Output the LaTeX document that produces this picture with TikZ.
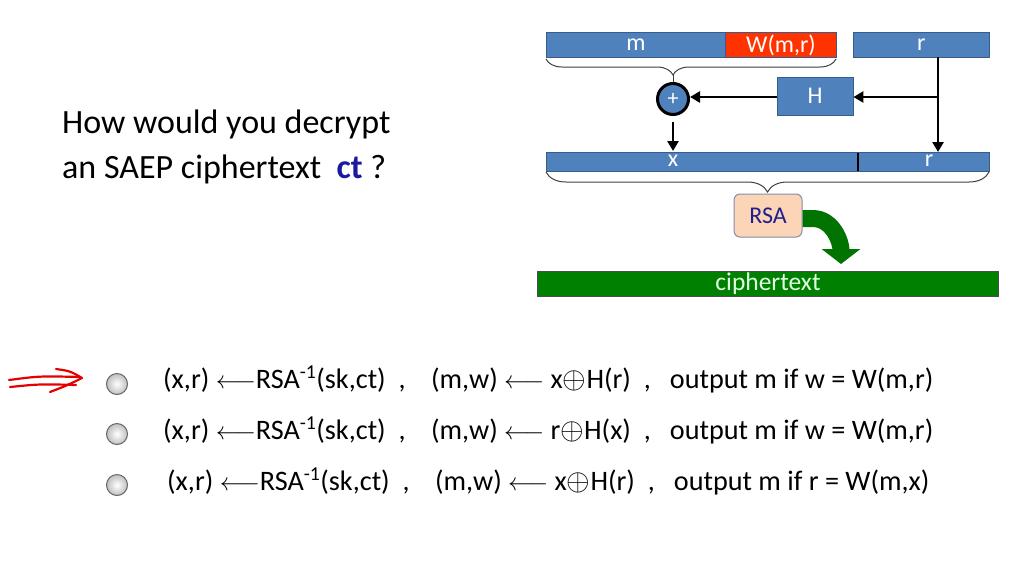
\documentclass[tikz,border=0pt]{standalone}
\usepackage{fontspec}
\usepackage{graphicx}
\setmainfont{Carlito}
\usetikzlibrary{arrows.meta,decorations.pathreplacing,calc}
\definecolor{barblue}{HTML}{4F81BD}
\definecolor{barborder}{HTML}{385D8A}
\definecolor{wred}{HTML}{FF3300}
\definecolor{ctgreen}{HTML}{008000}
\definecolor{rsafill}{HTML}{FBD5B5}
\definecolor{rsaborder}{HTML}{7F8FA9}
\definecolor{rsatext}{HTML}{1F1F8F}
\definecolor{ctblue}{HTML}{1A1A9C}
\definecolor{braceg}{HTML}{404040}
\newcommand{\myxor}{\raisebox{-0.5pt}{\scalebox{1.22}{$\oplus$}}}
\tikzset{
  bar/.style={draw=barborder, line width=0.8pt, fill=barblue, text=white, inner sep=0pt,
    minimum height=25pt, font=\fontsize{24}{28}\selectfont, anchor=north west},
  xorc/.style={circle, draw=black, line width=3pt, fill=barblue, text=white, minimum size=31pt,
    inner sep=0pt, font=\fontsize{22}{24}\selectfont},
  hbox/.style={draw=barborder, line width=0.8pt, fill=barblue, text=white, minimum width=76pt,
    minimum height=38pt, inner sep=0pt, font=\fontsize{24}{28}\selectfont},
  flow/.style={line width=2.6pt, -{Triangle[width=11pt,length=10pt]}},
  bracestyle/.style={draw=braceg, line width=1pt, decorate},
  radio/.style={circle, draw=black!60, line width=1pt, inner color=white, outer color=black!25,
    minimum size=21pt, inner sep=0pt},
  opt/.style={anchor=base west, inner sep=0pt, font=\fontsize{28.2}{32}\selectfont},
  title/.style={anchor=base west, inner sep=0pt, font=\fontsize{34}{40}\selectfont},
  redpen/.style={draw=red!90!black, line width=2.2pt, line cap=round, line join=round},
}
\begin{document}
\begin{tikzpicture}[x=1pt,y=-1pt]
\useasboundingbox (0,0) rectangle (1024,576);
\fill[white] (0,0) rectangle (1024,576);

% top row
\node[bar, minimum width=179pt] (m) at (546,32) {m};
\node[bar, minimum width=111pt, fill=wred] (w) at (725,32) {W(m,r)};
\node[bar, minimum width=136pt] (r) at (853,32) {r};

% xor circle and H
\node[xorc] (xor) at (673,99) {+};
\node[hbox] (H) at (815,96) {H};

% brace under m||W
\draw[bracestyle, decoration={brace, mirror, amplitude=16pt, aspect=0.438}] (546,59) -- (836,59);
\coordinate (btip) at (673,75);
\draw[braceg, line width=1pt] (btip) -- (xor.north);

% x || r bar
\node[bar, minimum width=443pt, minimum height=19pt] (xr) at (546,152) {};
\node[text=white, font=\fontsize{24}{28}\selectfont, inner sep=0pt, anchor=base] (xl) at (673,166) {x};
\node[text=white, font=\fontsize{24}{28}\selectfont, inner sep=0pt, anchor=base] (rl) at (929,166) {r};
\coordinate (divtop) at (858,152.5);
\coordinate (divbot) at (858,170.5);
\draw[line width=2.5pt] (divtop) -- (divbot);

% r branch
\coordinate (rdown) at (938,57);
\coordinate (rbranch) at (938,97);
\coordinate (rend) at (938,152);
\draw[flow] (rdown) -- (rend);
\draw[flow] (rbranch) -- (H.east |- rbranch);
\draw[flow] (H.west |- rbranch) -- (xor.east |- rbranch);
\coordinate (xorout) at (673,122);
\coordinate (xin) at (673,151);
\draw[flow] (xorout) -- (xin);

% brace under x||r
\draw[bracestyle, decoration={brace, mirror, amplitude=20pt}] (546,172) -- (989,172);

% RSA
\node[draw=rsaborder, line width=1pt, fill=rsafill, rounded corners=6pt, minimum width=68pt,
  minimum height=43pt, inner sep=0pt, text=rsatext, font=\fontsize{24}{28}\selectfont] (rsa) at (768,215.5) {RSA};

% ciphertext
\node[draw=black!70, line width=1pt, fill=ctgreen, text=white!88!green, minimum width=461pt,
  minimum height=25pt, inner sep=0pt, anchor=north west, font=\fontsize{25.5}{28}\selectfont] (ct) at (537,271) {ciphertext};

% green curved arrow
\coordinate (gstart) at ($(rsa.east)+(0,3)$);
\coordinate (gend) at (841,264);
\draw[ctgreen!90!black, line width=17pt, -{Triangle[width=38pt,length=15pt]}]
  (gstart) -- ++(10,0) to[out=0,in=90] (gend);

% title
\node[title] (t1) at (62,133) {How would you decrypt};
\node[title] (t2) at (62,178) {an SAEP ciphertext \ {\color{ctblue}\bfseries ct} ?};

% red hand-drawn arrow
\coordinate (ra1) at (9,380);
\coordinate (ra2) at (80,377);
\coordinate (ra3) at (10,387);
\coordinate (ra4) at (76,385);
\coordinate (rh1) at (56,369);
\coordinate (rh2) at (82,378);
\coordinate (rh3) at (50,392);
\draw[redpen] (ra1) .. controls (40,376) .. (ra2);
\draw[redpen] (ra3) .. controls (40,384) .. (ra4);
\draw[redpen] (rh1) .. controls (70,371) .. (rh2) .. controls (68,385) .. (rh3);

% radio buttons
\node[radio] (o1) at (117,384) {};
\node[radio] (o2) at (117,434) {};
\node[radio] (o3) at (117,485) {};

% options
\node[opt] (l1) at (163,388) {(x,r) $\longleftarrow$RSA\textsuperscript{-1}(sk,ct)\ \ ,\ \ \ \ (m,w) $\longleftarrow$ x\myxor H(r)\ \ ,\ \ \ output m if w = W(m,r)};
\node[opt] (l2) at (163,439) {(x,r) $\longleftarrow$RSA\textsuperscript{-1}(sk,ct)\ \ ,\ \ \ \ (m,w) $\longleftarrow$ r\myxor H(x)\ \ ,\ \ \ output m if w = W(m,r)};
\node[opt] (l3) at (167,490) {(x,r) $\longleftarrow$RSA\textsuperscript{-1}(sk,ct)\ \ ,\ \ \ \ (m,w) $\longleftarrow$ x\myxor H(r)\ \ ,\ \ \ output m if r = W(m,x)};
\end{tikzpicture}
\end{document}
